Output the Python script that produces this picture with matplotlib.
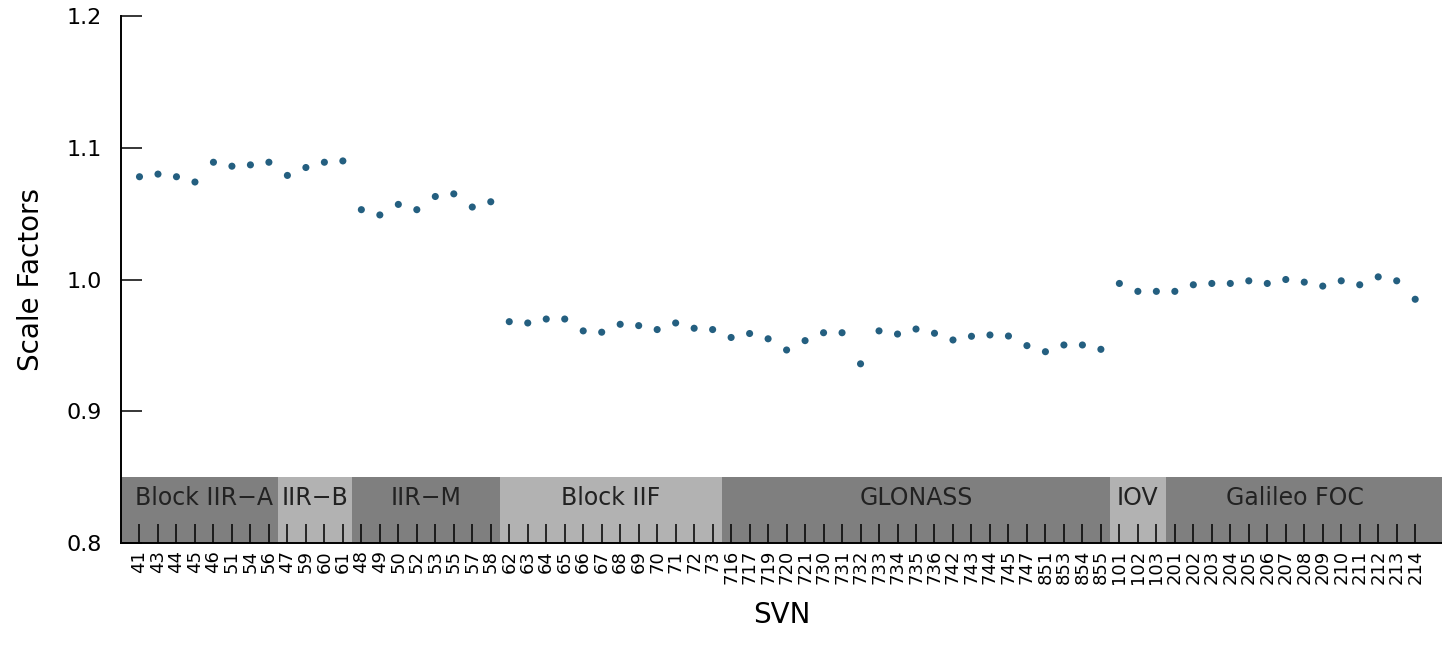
import matplotlib
matplotlib.use("Agg")
import matplotlib.pyplot as plt
import numpy as np

plt.rcParams['font.family'] = ['DejaVu Sans']

# ---- data ----
svn_labels = ["41", "43", "44", "45", "46", "51", "54", "56",
              "47", "59", "60", "61",
              "48", "49", "50", "52", "53", "55", "57", "58",
              "62", "63", "64", "65", "66", "67", "68", "69", "70", "71", "72", "73",
              "716", "717", "719", "720", "721", "730", "731", "732", "733", "734",
              "735", "736", "742", "743", "744", "745", "747", "851", "853", "854", "855",
              "101", "102", "103",
              "201", "202", "203", "204", "205", "206", "207", "208", "209", "210",
              "211", "212", "213", "214"]

scale_factors = [1.078, 1.080, 1.078, 1.074, 1.089, 1.086, 1.087, 1.089,
                 1.079, 1.085, 1.089, 1.090,
                 1.053, 1.049, 1.057, 1.053, 1.063, 1.065, 1.055, 1.059,
                 0.968, 0.967, 0.970, 0.970, 0.961, 0.960, 0.966, 0.965, 0.962, 0.967, 0.963, 0.962,
                 0.956, 0.959, 0.955, 0.9465, 0.9536, 0.9596, 0.9596, 0.936, 0.961, 0.9586,
                 0.9624, 0.9592, 0.9541, 0.9569, 0.9579, 0.9571, 0.9498, 0.9452, 0.9503, 0.9503, 0.947,
                 0.997, 0.991, 0.991,
                 0.991, 0.996, 0.997, 0.997, 0.999, 0.997, 1.000, 0.998, 0.995, 0.999,
                 0.996, 1.002, 0.999, 0.985]

group_names = ["Block IIR\u2212A", "IIR\u2212B", "IIR\u2212M", "Block IIF", "GLONASS", "IOV", "Galileo FOC"]
group_sizes = [8, 4, 8, 12, 21, 3, 14]
group_colors = ["#7f7f7f", "#b2b2b2", "#7f7f7f", "#b2b2b2", "#7f7f7f", "#b2b2b2", "#7f7f7f"]

yticks = [0.8, 0.9, 1.0, 1.1, 1.2]

# ---- figure ----
W, H, DPI = 1442, 652, 100
fig = plt.figure(figsize=(W / DPI, H / DPI), dpi=DPI)
ax = fig.add_axes([121 / W, 1 - 543 / H, (W - 121) / W, (543 - 16) / H])

x = np.arange(len(svn_labels))
xlim = (-1.0, 70.45)
ax.set_xlim(*xlim)
ax.set_ylim(0.8, 1.2)

# group bands
band_top = 0.85
start = 0
for name, n, col in zip(group_names, group_sizes, group_colors):
    left = xlim[0] if start == 0 else start - 0.5
    right = xlim[1] if start + n == len(svn_labels) else start + n - 0.5
    ax.fill_between([left, right], 0.8, band_top, color=col, lw=0, zorder=0.5)
    ax.text((start + start + n - 1) / 2, 0.834, name, ha='center', va='center',
            fontsize=17, color='#222222', zorder=1)
    start += n

ax.scatter(x, scale_factors, s=26, color='#245f80', edgecolors='none', zorder=3)

ax.set_xticks(x)
ax.set_xticklabels(svn_labels, rotation=90, fontsize=13)
ax.set_yticks(yticks)
ax.set_yticklabels([f"{v:.1f}" for v in yticks], fontsize=16)

ax.tick_params(axis='x', direction='in', length=14, width=1.1, pad=5, color='black')
ax.tick_params(axis='y', direction='in', length=15, width=1.1, pad=14, color='black')

for s in ['top', 'right']:
    ax.spines[s].set_visible(False)
for s in ['left', 'bottom']:
    ax.spines[s].set_linewidth(1.4)
    ax.spines[s].set_zorder(4)

ax.set_xlabel("SVN", fontsize=20, labelpad=12)
ax.set_ylabel("Scale Factors", fontsize=20, labelpad=15)

fig.savefig("out.png", dpi=DPI)
